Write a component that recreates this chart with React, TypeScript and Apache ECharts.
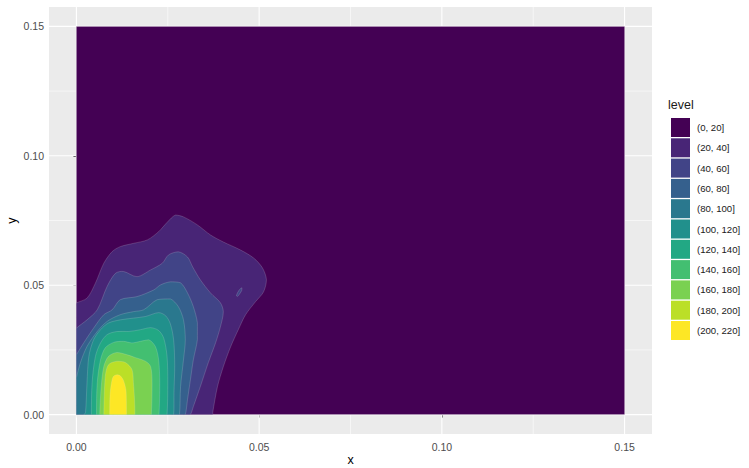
import React, { useEffect, useRef } from "react";
import * as echarts from "echarts";

// Filled density contours: bands of 20 from 0 up to 220
const LEVELS = [
  "(0, 20]", "(20, 40]", "(40, 60]", "(60, 80]", "(80, 100]", "(100, 120]",
  "(120, 140]", "(140, 160]", "(160, 180]", "(180, 200]", "(200, 220]",
];
const COLORS = [
  "#440154", "#482576", "#414487", "#35608D", "#2A788E", "#21908C",
  "#22A884", "#43BF71", "#7AD151", "#BBDF27", "#FDE725",
];

const X_TICKS = [0, 0.05, 0.1, 0.15];
const Y_TICKS = [0, 0.05, 0.1, 0.15];
const X_MINOR = [0.025, 0.075, 0.125];
const Y_MINOR = [0.025, 0.075, 0.125];
// panel limits: data range 0..0.15 padded by 5% on each side
const X_LIMITS = [-0.0075, 0.1575];
const Y_LIMITS = [-0.0075, 0.1575];
const LIMIT_STEP = 0.0075;

// Region where density > level, as (x, y) rings
const above0 = [[0, 0], [0.15, 0], [0.15, 0.15], [0, 0.15]];
const above20 = [
  [0, 0.0431], [0.0029, 0.045], [0.0052, 0.0508], [0.0075, 0.0585], [0.0098, 0.063],
  [0.012, 0.0649], [0.0157, 0.0662], [0.0194, 0.0675], [0.0225, 0.0707], [0.0249, 0.0744],
  [0.0271, 0.0771], [0.0293, 0.0764], [0.0331, 0.0733], [0.0367, 0.0694], [0.0402, 0.0667],
  [0.0449, 0.0636], [0.0485, 0.0605], [0.0509, 0.0567], [0.052, 0.0521], [0.0512, 0.0474],
  [0.049, 0.0436], [0.0463, 0.0386], [0.0443, 0.0328], [0.0422, 0.0262], [0.0402, 0.0185],
  [0.0386, 0.0108], [0.0373, 0.0008], [0.0373, 0], [0, 0],
];
const above40 = [
  [0, 0.0334], [0.0029, 0.0366], [0.0057, 0.0405], [0.0084, 0.0495], [0.0107, 0.0546],
  [0.0129, 0.0553], [0.0166, 0.0533], [0.0203, 0.0559], [0.0235, 0.0585], [0.0252, 0.0617],
  [0.0279, 0.0629], [0.0304, 0.0609], [0.0318, 0.0571], [0.0339, 0.0521], [0.0367, 0.047],
  [0.0394, 0.0432], [0.0402, 0.0397], [0.0394, 0.0339], [0.0381, 0.0278], [0.0361, 0.0201],
  [0.0339, 0.0108], [0.032, 0.0031], [0.0312, 0], [0, 0],
];
const above40Island = [
  [0.0438, 0.0459], [0.0441, 0.0471], [0.0447, 0.0484], [0.0453, 0.049],
  [0.0452, 0.0479], [0.0446, 0.0465], [0.0441, 0.0457],
];
const above60 = [
  [0, 0.0231], [0.002, 0.0277], [0.0047, 0.0334], [0.0075, 0.0386], [0.0098, 0.0405],
  [0.012, 0.0444], [0.0166, 0.0456], [0.0212, 0.0482], [0.023, 0.0501], [0.0257, 0.0513],
  [0.0285, 0.0509], [0.0304, 0.047], [0.032, 0.0417], [0.0331, 0.0355], [0.0331, 0.0289],
  [0.032, 0.0212], [0.0312, 0.0135], [0.0304, 0.0058], [0.0298, 0], [0, 0],
];
const above80 = [
  [0, 0.0143], [0.0011, 0.0201], [0.0029, 0.0263], [0.0057, 0.0321], [0.0084, 0.036],
  [0.012, 0.0386], [0.0157, 0.0398], [0.0184, 0.0405], [0.0221, 0.0444], [0.0257, 0.0447],
  [0.0279, 0.0417], [0.0293, 0.0366], [0.0298, 0.0289], [0.0293, 0.0212], [0.0285, 0.0108],
  [0.0282, 0], [0, 0],
];
const above100 = [
  [0.0021, 0], [0.0025, 0.0008], [0.0029, 0.0123], [0.0034, 0.0225], [0.0047, 0.0289],
  [0.0066, 0.0328], [0.0088, 0.0354], [0.012, 0.0366], [0.0157, 0.0373], [0.0189, 0.0379],
  [0.0225, 0.0394], [0.0244, 0.0382], [0.0257, 0.0351], [0.0266, 0.0289], [0.0269, 0.019],
  [0.0267, 0.0085], [0.0266, 0],
];
const above120 = [
  [0.0041, 0], [0.0043, 0.0123], [0.0052, 0.0225], [0.0066, 0.0277], [0.0084, 0.0309],
  [0.0111, 0.0321], [0.0143, 0.0321], [0.0175, 0.0328], [0.0203, 0.0336], [0.0225, 0.0325],
  [0.0239, 0.0295], [0.0248, 0.0225], [0.025, 0.0123], [0.0248, 0],
];
const above140 = [
  [0.0055, 0], [0.0057, 0.0123], [0.0066, 0.0212], [0.0079, 0.0258], [0.0102, 0.0279],
  [0.0129, 0.0283], [0.0152, 0.0277], [0.0175, 0.0283], [0.0198, 0.0289], [0.0216, 0.0263],
  [0.0225, 0.0212], [0.0228, 0.0123], [0.0226, 0],
];
const above160 = [
  [0.0064, 0], [0.0068, 0.0109], [0.0075, 0.0186], [0.0088, 0.0225], [0.0111, 0.024],
  [0.0139, 0.0231], [0.0162, 0.022], [0.0189, 0.0206], [0.0203, 0.0186], [0.0207, 0.0123],
  [0.0205, 0],
];
const above180 = [
  [0.0075, 0], [0.0079, 0.0147], [0.0088, 0.0193], [0.0111, 0.0206], [0.0134, 0.0201],
  [0.0152, 0.0174], [0.0156, 0.0123], [0.0159, 0.0058], [0.016, 0],
];
const above200 = [
  [0.0091, 0], [0.0092, 0.0077], [0.0096, 0.0123], [0.0101, 0.0147], [0.0111, 0.0154],
  [0.012, 0.015], [0.0129, 0.0131], [0.0136, 0.0089], [0.0137, 0],
];

const REGIONS = [
  [above0], [above20], [above40, above40Island], [above60], [above80], [above100],
  [above120], [above140], [above160], [above180], [above200],
];

const FONT = "'Liberation Sans', Arial, Helvetica, sans-serif";

// Edges lying on the data border (x = 0 or y = 0) stay straight when the
// ring is smoothed: pin each end with a point very close to the corner.
function pinBorderEdges(ring: number[][]): number[][] {
  const out: number[][] = [];
  const n = ring.length;
  for (let i = 0; i < n; i++) {
    const a = ring[i];
    const b = ring[(i + 1) % n];
    out.push(a);
    const onBorder = (a[0] === 0 && b[0] === 0) || (a[1] === 0 && b[1] === 0);
    if (onBorder) {
      const t = 0.02;
      out.push([a[0] + (b[0] - a[0]) * t, a[1] + (b[1] - a[1]) * t]);
      out.push([b[0] - (b[0] - a[0]) * t, b[1] - (b[1] - a[1]) * t]);
    }
  }
  return out;
}

export default function App() {
  const ref = useRef<HTMLDivElement>(null);

  useEffect(() => {
    if (!ref.current) return;
    const chart = echarts.init(ref.current, undefined, { renderer: "svg" });

    const gridLineSeries = (dim: "x" | "y", major: number[], minor: number[]) => ({
      type: "custom",
      coordinateSystem: "cartesian2d",
      silent: true,
      z: 1,
      data: [...major.map((v) => [v, 1]), ...minor.map((v) => [v, 0])].map((d) =>
        dim === "x" ? [d[0], 0, d[1]] : [0, d[0], d[1]]
      ),
      renderItem: (params: any, api: any) => {
        const cs = params.coordSys;
        const isMajor = api.value(2) === 1;
        let shape;
        if (dim === "x") {
          const p = api.coord([api.value(0), 0]);
          shape = { x1: p[0], y1: cs.y, x2: p[0], y2: cs.y + cs.height };
        } else {
          const p = api.coord([0, api.value(1)]);
          shape = { x1: cs.x, y1: p[1], x2: cs.x + cs.width, y2: p[1] };
        }
        return {
          type: "line",
          shape,
          style: { stroke: "#FFFFFF", lineWidth: isMajor ? 1.1 : 0.55 },
        };
      },
    });

    const bandSeries = LEVELS.map((name, i) => ({
      type: "custom",
      name,
      coordinateSystem: "cartesian2d",
      silent: true,
      z: 2 + i,
      itemStyle: { color: COLORS[i] },
      data: [[0, 0]],
      renderItem: (_params: any, api: any) => ({
        type: "group",
        children: REGIONS[i].map((ring) => {
          const pts = (i === 0 ? ring : pinBorderEdges(ring)).map((pt) => api.coord(pt));
          const xs = pts.map((p: number[]) => p[0]);
          const ys = pts.map((p: number[]) => p[1]);
          return {
            type: "polygon",
            shape: {
              points: pts,
              smooth: i === 0 ? 0 : 0.3,
              smoothConstraint: [
                [Math.min(...xs), Math.min(...ys)],
                [Math.max(...xs), Math.max(...ys)],
              ],
            },
            style: {
              fill: COLORS[i],
              stroke: "rgba(235,235,235,0.3)",
              lineWidth: 0.6,
            },
          };
        }),
      }),
    }));

    const axisCommon = {
      type: "value",
      interval: LIMIT_STEP,
      axisLine: { show: false },
      axisTick: { show: true, length: 3, lineStyle: { color: "#333333", width: 1 } },
      splitLine: { show: false },
      nameTextStyle: { fontFamily: FONT, fontSize: 12.5, color: "#000000" },
      nameLocation: "middle",
      nameMoveOverlap: false,
    };

    chart.setOption({
      animation: false,
      backgroundColor: "#FFFFFF",
      grid: {
        left: 49,
        top: 7,
        width: 603,
        height: 427,
        show: true,
        backgroundColor: "#EBEBEB",
        borderWidth: 0,
        containLabel: false,
        outerBoundsMode: "none",
      },
      xAxis: {
        ...axisCommon,
        min: X_LIMITS[0],
        max: X_LIMITS[1],
        name: "x",
        nameGap: 19,
        axisTick: { ...axisCommon.axisTick, customValues: X_TICKS },
        axisLabel: {
          customValues: X_TICKS,
          formatter: (v: number) => v.toFixed(2),
          fontFamily: FONT,
          fontSize: 10.5,
          color: "#4D4D4D",
          margin: 7,
        },
      },
      yAxis: {
        ...axisCommon,
        min: Y_LIMITS[0],
        max: Y_LIMITS[1],
        name: "y",
        nameGap: 31,
        axisTick: { ...axisCommon.axisTick, customValues: Y_TICKS },
        axisLabel: {
          customValues: Y_TICKS,
          formatter: (v: number) => v.toFixed(2),
          fontFamily: FONT,
          fontSize: 10.5,
          color: "#4D4D4D",
          margin: 5,
        },
      },
      legend: {
        data: LEVELS,
        orient: "vertical",
        left: 671,
        top: 118,
        padding: 0,
        itemWidth: 19,
        itemHeight: 19,
        itemGap: 1.3,
        icon: "rect",
        selectedMode: false,
        itemStyle: { borderWidth: 0 },
        textStyle: { fontFamily: FONT, fontSize: 9.6, color: "#1A1A1A", padding: [0, 0, 0, 2] },
      },
      graphic: [
        {
          type: "text",
          left: 668,
          top: 98,
          style: { text: "level", fontFamily: FONT, fontSize: 12.5, fill: "#1A1A1A" },
        },
      ],
      series: [
        gridLineSeries("x", X_TICKS, X_MINOR),
        gridLineSeries("y", Y_TICKS, Y_MINOR),
        ...bandSeries,
      ],
    });

    return () => chart.dispose();
  }, []);

  return (
    <div
      ref={ref}
      style={{ position: "fixed", left: 0, top: 0, width: 749, height: 468 }}
    />
  );
}
